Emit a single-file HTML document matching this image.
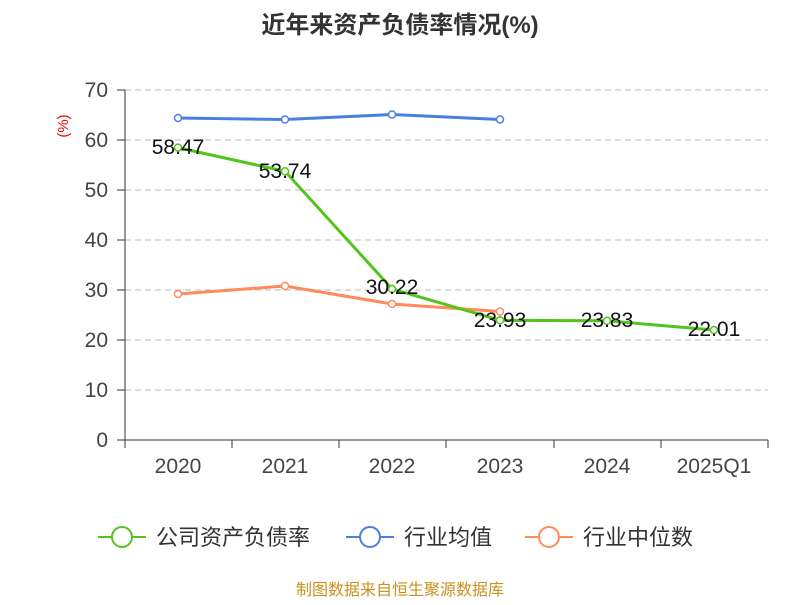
<!DOCTYPE html>
<html><head><meta charset="utf-8"><style>
body{margin:0;background:#fff;width:800px;height:600px;overflow:hidden}
svg text{font-family:"Liberation Sans","Noto Sans CJK SC",sans-serif}
</style></head><body>
<svg width="800" height="600" viewBox="0 0 800 600">
<text x="400" y="33" text-anchor="middle" font-size="24" font-weight="bold" fill="#333">近年来资产负债率情况(%)</text>
<text x="68" y="126" font-size="15" fill="#e00" transform="rotate(-90 68 126)" text-anchor="middle">(%)</text>
<g stroke="#bbb" stroke-dasharray="6,4" stroke-width="1">
<line x1="125" y1="90" x2="768" y2="90"/><line x1="125" y1="140" x2="768" y2="140"/><line x1="125" y1="190" x2="768" y2="190"/><line x1="125" y1="240" x2="768" y2="240"/><line x1="125" y1="290" x2="768" y2="290"/><line x1="125" y1="340" x2="768" y2="340"/><line x1="125" y1="390" x2="768" y2="390"/>
</g>
<g stroke="#333" stroke-width="1">
<line x1="125" y1="90" x2="125" y2="440"/><line x1="125" y1="440" x2="768" y2="440"/>
<line x1="117" y1="90" x2="125" y2="90"/><line x1="117" y1="140" x2="125" y2="140"/><line x1="117" y1="190" x2="125" y2="190"/><line x1="117" y1="240" x2="125" y2="240"/><line x1="117" y1="290" x2="125" y2="290"/><line x1="117" y1="340" x2="125" y2="340"/><line x1="117" y1="390" x2="125" y2="390"/><line x1="117" y1="440" x2="125" y2="440"/>
<line x1="125" y1="440" x2="125" y2="448"/><line x1="232" y1="440" x2="232" y2="448"/><line x1="339" y1="440" x2="339" y2="448"/><line x1="446" y1="440" x2="446" y2="448"/><line x1="554" y1="440" x2="554" y2="448"/><line x1="661" y1="440" x2="661" y2="448"/><line x1="768" y1="440" x2="768" y2="448"/>
</g>
<g font-size="21" fill="#444" text-anchor="end">
<text x="108" y="97">70</text><text x="108" y="147">60</text><text x="108" y="197">50</text><text x="108" y="247">40</text><text x="108" y="297">30</text><text x="108" y="347">20</text><text x="108" y="397">10</text><text x="108" y="447">0</text>
</g>
<g font-size="21" fill="#444" text-anchor="middle">
<text x="178" y="473">2020</text><text x="285" y="473">2021</text><text x="392" y="473">2022</text><text x="500" y="473">2023</text><text x="607" y="473">2024</text><text x="714" y="473">2025Q1</text>
</g>
<polyline fill="none" stroke="#4a7fe0" stroke-width="3" points="178,118 285,119.5 392,114.5 500,119.5"/>
<g fill="#fff" stroke="#4a7fe0" stroke-width="1.5"><circle cx="178" cy="118" r="3.5"/><circle cx="285" cy="119.5" r="3.5"/><circle cx="392" cy="114.5" r="3.5"/><circle cx="500" cy="119.5" r="3.5"/></g>
<polyline fill="none" stroke="#ff8a5a" stroke-width="3" points="178,294 285,286 392,304 500,311.5"/>
<g fill="#fff" stroke="#ff8a5a" stroke-width="1.5"><circle cx="178" cy="294" r="3.5"/><circle cx="285" cy="286" r="3.5"/><circle cx="392" cy="304" r="3.5"/><circle cx="500" cy="311.5" r="3.5"/></g>
<polyline fill="none" stroke="#52c41a" stroke-width="3" points="178,147.6 285,171.3 392,288.9 500,320.3 607,320.8 714,330"/>
<g fill="#fff" stroke="#52c41a" stroke-width="1.5"><circle cx="178" cy="147.6" r="3.5"/><circle cx="285" cy="171.3" r="3.5"/><circle cx="392" cy="288.9" r="3.5"/><circle cx="500" cy="320.3" r="3.5"/><circle cx="607" cy="320.8" r="3.5"/><circle cx="714" cy="330" r="3.5"/></g>
<g font-size="21" fill="#111" text-anchor="middle">
<text x="178" y="154">58.47</text><text x="285" y="178">53.74</text><text x="392" y="294">30.22</text><text x="500" y="327">23.93</text><text x="607" y="327">23.83</text><text x="714" y="336">22.01</text>
</g>
<g stroke-width="2" fill="#fff">
<line x1="98" y1="537" x2="146" y2="537" stroke="#52c41a"/><circle cx="122" cy="537" r="10" stroke="#52c41a"/>
<line x1="346" y1="537" x2="394" y2="537" stroke="#4a7fe0"/><circle cx="370" cy="537" r="10" stroke="#4a7fe0"/>
<line x1="525" y1="537" x2="573" y2="537" stroke="#ff8a5a"/><circle cx="549" cy="537" r="10" stroke="#ff8a5a"/>
</g>
<g font-size="22" fill="#333">
<text x="156" y="545">公司资产负债率</text><text x="404" y="545">行业均值</text><text x="583" y="545">行业中位数</text>
</g>
<text x="400" y="595" text-anchor="middle" font-size="16" fill="#c8901e">制图数据来自恒生聚源数据库</text>
</svg>
</body></html>
